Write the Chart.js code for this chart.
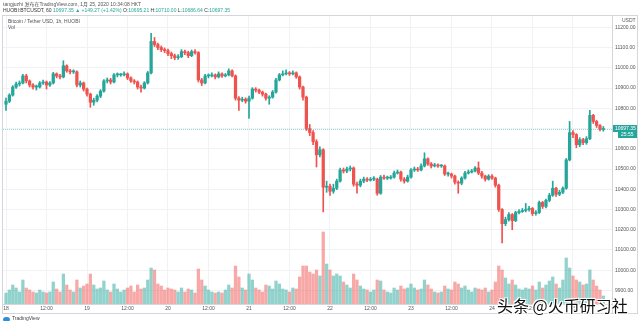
<!DOCTYPE html>
<html>
<head>
<meta charset="utf-8">
<script src="https://cdn.jsdelivr.net/npm/chart.js@4.4.1/dist/chart.umd.min.js"></script>
<style>
  body { margin: 0; background: #fff; }
  #wrap { position: relative; width: 640px; height: 326px; overflow: hidden;
          font-family: "Liberation Sans", Arial, "Noto Sans CJK SC", sans-serif; }
  canvas { position: absolute; left: 0; top: 0; }
  .t { position: absolute; white-space: nowrap; font-size: 5px; line-height: 6px; color: #555; }
  .g { color: #26a69a; }
  #logo { position: absolute; left: 3px; top: 315px; font-size: 5px; line-height: 7px; color: #444; white-space: nowrap; }
  #logo i { display: inline-block; width: 7px; height: 4px; background: #2e8fd8; border-radius: 3px 3px 1px 1px; margin-right: 2px; vertical-align: middle; }
  #wm { position: absolute; left: 497px; top: 294px; font-family: "Noto Sans CJK SC", sans-serif; font-size: 16px; line-height: 22px;
        color: #111; white-space: nowrap;
        text-shadow: 1px 1px 0 #fff, -1px -1px 0 #fff, 1px -1px 0 #fff, -1px 1px 0 #fff, 0 0 3px #fff; }
</style>
</head>
<body>
<div id="wrap">
  <canvas id="btc" width="640" height="326"></canvas>
  <div class="t" style="left:3px;top:1px">tangjuzhi 发布在TradingView.com, 1月 25, 2020 10:34:08 HKT</div>
  <div class="t" style="left:3px;top:7px;color:#333">HUOBI:BTCUSDT, 60 <span class="g">10697.35 ▲ +149.27 (+1.42%)</span> O:<span class="g">10695.21</span> H:<span class="g">10710.00</span> L:<span class="g">10686.64</span> C:<span class="g">10697.35</span></div>
  <div class="t" style="left:8px;top:18px">Bitcoin / Tether USD, 1h, HUOBI</div>
  <div class="t" style="left:8px;top:24px">Vol</div>
  <div class="t" style="left:622px;top:17px">USDT</div>
  <div id="logo"><i></i>TradingView</div>
  <div id="wm">头条 @火币研习社</div>
</div>
<script>
// hourly candles, BTC/USDT (Huobi), Jan 18 - Jan 25 2020
const timeLabels = ['18', '12:00', '19', '12:00', '20', '12:00', '21', '12:00', '22', '12:00', '23', '12:00', '24', '12:00', '25'];
const timeTicks = [0, 12, 24, 36, 48, 60, 72, 84, 96, 108, 120, 132, 144, 156, 168];
const priceTicks = [9900, 10000, 10100, 10200, 10300, 10400, 10500, 10600, 10700, 10800, 10900, 11000, 11100, 11200];

const opens = [
  10820,10835,10865,10905,10920,10925,10960,10935,10915,10905,
  10905,10925,10930,10915,10925,10970,10960,10955,11010,10985,
  10980,10980,10915,10925,10895,10870,10830,10840,10860,10885,
  10935,10940,10930,10965,10965,10965,10970,10950,10935,10930,
  10905,10900,10925,10975,11130,11115,11100,11090,11085,11070,
  11060,11050,11055,11080,11075,11060,11080,11075,10940,10925,
  10960,10960,10965,10955,10970,10960,10965,10985,10960,10850,
  10840,10845,10835,10850,10895,10890,10880,10870,10850,10855,
  10880,10940,10965,10970,10975,10970,10975,10955,10905,10855,
  10700,10680,10635,10570,10595,10410,10415,10390,10405,10440,
  10495,10490,10500,10505,10425,10420,10440,10450,10445,10450,
  10450,10380,10460,10455,10455,10460,10480,10485,10450,10440,
  10460,10495,10500,10495,10515,10550,10525,10515,10520,10515,
  10515,10475,10475,10465,10435,10430,10455,10480,10485,10490,
  10505,10480,10465,10450,10465,10455,10420,10300,10230,10250,
  10275,10245,10285,10290,10295,10300,10305,10280,10285,10335,
  10315,10345,10370,10405,10375,10385,10405,10545,10680,10670,
  10620,10645,10630,10650,10765,10735,10715,10695.21
];
const highs = [
  10850,10872,10912,10930,10935,10968,10968,10940,10922,10915,
  10932,10940,10935,10932,10978,10975,10968,11035,11015,10992,
  10990,10985,10935,10930,10900,10875,10850,10868,10892,10942,
  10950,10948,10972,10975,10972,10980,10975,10955,10942,10935,
  10915,10932,10982,11170,11150,11122,11108,11098,11092,11078,
  11068,11065,11090,11088,11082,11088,11090,11080,10948,10968,
  10970,10975,10970,10980,10975,10972,10995,10990,10965,10858,
  10855,10852,10860,10902,10902,10895,10885,10875,10862,10888,
  10948,10972,10985,10990,10982,10985,10980,10960,10910,10860,
  10720,10690,10645,10610,10600,10440,10425,10425,10450,10505,
  10505,10510,10515,10510,10435,10450,10460,10458,10458,10462,
  10455,10468,10470,10465,10468,10490,10495,10490,10458,10470,
  10502,10510,10508,10525,10580,10555,10532,10528,10525,10522,
  10520,10485,10480,10470,10442,10462,10488,10495,10498,10512,
  10535,10488,10470,10472,10472,10460,10425,10305,10262,10285,
  10280,10292,10300,10305,10330,10315,10310,10295,10342,10340,
  10352,10380,10440,10410,10395,10412,10552,10735,10690,10675,
  10655,10652,10660,10790,10770,10740,10720,10710
];
const lows = [
  10790,10828,10860,10898,10910,10920,10925,10905,10895,10890,
  10900,10918,10895,10908,10920,10950,10945,10950,10978,10970,
  10972,10905,10905,10885,10860,10805,10815,10832,10852,10880,
  10925,10920,10925,10955,10958,10960,10942,10928,10920,10895,
  10880,10895,10920,10970,11105,11090,11080,11075,11060,11045,
  11040,11042,11050,11065,11050,11055,11068,10930,10912,10920,
  10950,10955,10945,10950,10952,10955,10960,10955,10840,10790,
  10832,10825,10750,10845,10880,10872,10860,10840,10820,10850,
  10875,10935,10960,10965,10962,10965,10948,10895,10840,10690,
  10665,10620,10510,10560,10288,10385,10370,10380,10398,10435,
  10480,10482,10490,10415,10380,10412,10432,10438,10440,10442,
  10370,10375,10448,10448,10450,10455,10475,10440,10430,10435,
  10455,10488,10488,10490,10510,10518,10505,10510,10508,10508,
  10468,10465,10455,10425,10380,10422,10450,10475,10480,10485,
  10472,10455,10440,10445,10448,10410,10290,10135,10220,10242,
  10200,10240,10278,10285,10288,10292,10270,10272,10280,10305,
  10308,10338,10365,10365,10368,10378,10400,10540,10655,10605,
  10610,10620,10622,10645,10725,10705,10688,10686.64
];
const closes = [
  10835,10865,10905,10920,10925,10960,10935,10915,10905,10905,
  10925,10930,10915,10925,10970,10960,10955,11010,10985,10980,
  10980,10915,10925,10895,10870,10830,10840,10860,10885,10935,
  10940,10930,10965,10965,10965,10970,10950,10935,10930,10905,
  10900,10925,10975,11130,11115,11100,11090,11085,11070,11060,
  11050,11055,11080,11075,11060,11080,11075,10940,10925,10960,
  10960,10965,10955,10970,10960,10965,10985,10960,10850,10840,
  10845,10835,10850,10895,10890,10880,10870,10850,10855,10880,
  10940,10965,10970,10975,10970,10975,10955,10905,10855,10700,
  10680,10635,10570,10595,10410,10415,10390,10405,10440,10495,
  10490,10500,10505,10425,10420,10440,10450,10445,10450,10450,
  10380,10460,10455,10455,10460,10480,10485,10450,10440,10460,
  10495,10500,10495,10515,10550,10525,10515,10520,10515,10515,
  10475,10475,10465,10435,10430,10455,10480,10485,10490,10505,
  10480,10465,10450,10465,10455,10420,10300,10230,10250,10275,
  10245,10285,10290,10295,10300,10305,10280,10285,10335,10315,
  10345,10370,10405,10375,10385,10405,10545,10680,10670,10620,
  10645,10630,10650,10765,10735,10715,10695.21,10697.35
];
const volumes = [
  550,700,950,800,600,1200,800,700,600,550,
  700,600,550,600,1100,750,600,1500,950,700,
  600,1200,800,900,1000,1500,950,750,800,1150,
  700,600,1000,750,600,700,800,900,600,950,
  750,800,1200,1800,1700,1000,900,700,800,750,
  700,600,800,600,750,700,550,1750,1200,900,
  700,600,550,600,550,700,950,800,1900,1350,
  800,700,1500,1200,800,700,600,950,900,750,
  1150,1000,750,700,600,800,750,1350,1900,1900,
  1600,1500,1700,1400,3600,2000,1700,1400,1500,1400,
  1100,950,800,1500,1200,900,750,700,600,700,
  1200,1150,700,600,550,800,700,900,750,800,
  1000,800,700,750,1200,950,750,600,550,600,
  900,750,700,1100,1000,800,900,700,600,800,
  750,700,800,600,700,1100,1900,1700,1300,1000,
  1200,950,750,700,800,750,900,700,1100,800,
  950,1150,1350,1000,800,1200,2300,1800,1400,1200,
  1100,950,1000,1700,1200,900,700,400
];

const UP = '#26a69a', DOWN = '#ef5350';
const UP_VOL = 'rgba(38,166,154,0.5)', DOWN_VOL = 'rgba(239,83,80,0.5)';
const isUp = closes.map((c, i) => c >= opens[i]);

const wickData = closes.map((c, i) => ({ x: i, y: [lows[i], highs[i]] }));
const bodyData = closes.map((c, i) => ({ x: i, y: [opens[i], c] }));
const volData = volumes.map((v, i) => ({ x: i, y: v }));

// frame, last price line and price tag
const framePlugin = {
  id: 'frame',
  afterDraw(chart) {
    const { ctx, chartArea: a, scales } = chart;
    const last = closes[closes.length - 1];
    const py = Math.round(scales.y.getPixelForValue(last)) + 0.5;
    ctx.save();
    ctx.strokeStyle = 'rgba(38,166,154,0.45)';
    ctx.lineWidth = 1;
    ctx.setLineDash([1, 1]);
    ctx.beginPath();
    ctx.moveTo(a.left, py);
    ctx.lineTo(a.right, py);
    ctx.stroke();
    ctx.setLineDash([]);

    ctx.strokeStyle = '#d3d6dc';
    ctx.strokeRect(2.5, 15.5, 635, 298);
    ctx.beginPath();
    ctx.moveTo(Math.round(a.right) + 0.5, 15.5);
    ctx.lineTo(Math.round(a.right) + 0.5, 313.5);
    ctx.moveTo(2.5, Math.round(a.bottom) + 0.5);
    ctx.lineTo(Math.round(a.right) + 0.5, Math.round(a.bottom) + 0.5);
    ctx.stroke();

    ctx.fillStyle = UP;
    ctx.fillRect(a.right + 1, py - 4.5, 24, 7);
    ctx.fillRect(a.right + 6, py + 2.5, 19, 6);
    ctx.fillStyle = '#fff';
    ctx.font = '5px "Liberation Sans", Arial';
    ctx.textBaseline = 'middle';
    ctx.fillText(last.toFixed(2), a.right + 3, py - 1);
    ctx.fillText('25:55', a.right + 9, py + 5.5);
    ctx.restore();
  }
};

new Chart(document.getElementById('btc'), {
  type: 'bar',
  data: {
    datasets: [
      {
        label: 'Vol',
        data: volData,
        yAxisID: 'v',
        backgroundColor: isUp.map(u => u ? UP_VOL : DOWN_VOL),
        barThickness: 2.6,
        grouped: false,
        order: 3
      },
      {
        label: 'wick',
        data: wickData,
        yAxisID: 'y',
        backgroundColor: isUp.map(u => u ? UP : DOWN),
        barThickness: 1,
        grouped: false,
        order: 2
      },
      {
        label: 'body',
        data: bodyData,
        yAxisID: 'y',
        backgroundColor: isUp.map(u => u ? UP : DOWN),
        barThickness: 2.6,
        minBarLength: 1,
        grouped: false,
        order: 1
      }
    ]
  },
  options: {
    responsive: false,
    animation: false,
    devicePixelRatio: 1,
    layout: { padding: { left: 3, top: 16, right: 3, bottom: 13 } },
    plugins: { legend: { display: false }, tooltip: { enabled: false } },
    scales: {
      x: {
        type: 'linear',
        offset: false,
        min: -0.89,
        max: 179.56,
        afterBuildTicks: s => { s.ticks = timeTicks.map(v => ({ value: v })); },
        afterFit: s => { s.height = 9; },
        ticks: {
          autoSkip: false,
          maxRotation: 0,
          padding: 2,
          color: '#555',
          font: { size: 5, family: '"Liberation Sans", Arial' },
          callback: (v, i) => timeLabels[i]
        },
        grid: { color: '#f0f2f5', drawTicks: false, offset: false },
        border: { display: false }
      },
      y: {
        position: 'right',
        min: 9833,
        max: 11256,
        afterBuildTicks: s => { s.ticks = priceTicks.map(v => ({ value: v })); },
        afterFit: s => { s.width = 25; },
        ticks: {
          padding: 3,
          color: '#555',
          font: { size: 5, family: '"Liberation Sans", Arial' },
          callback: v => v.toFixed(2)
        },
        grid: { color: '#f0f2f5', drawTicks: false },
        border: { display: false }
      },
      v: {
        display: false,
        min: 0,
        max: 14400
      }
    }
  },
  plugins: [framePlugin]
});
</script>
</body>
</html>
